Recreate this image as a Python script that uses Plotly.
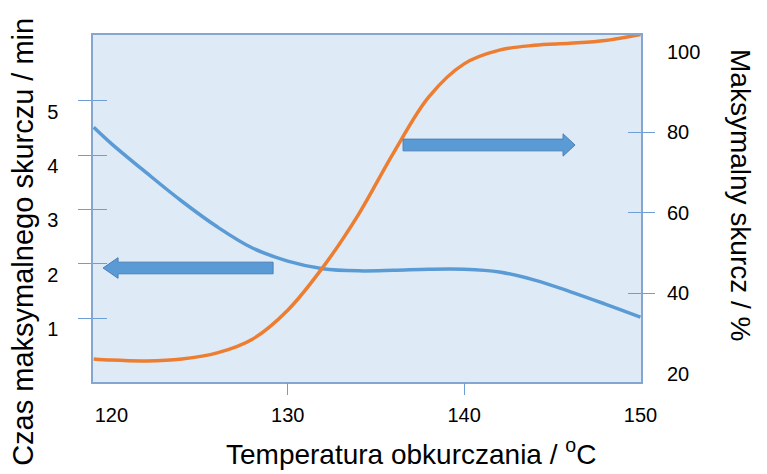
import plotly.graph_objects as go

# ---- data ----
temperature = [119, 120, 122, 124, 126, 128, 130, 132, 134, 136, 138, 140, 142, 144, 146, 148, 150]
time_min = [4.51, 4.21, 3.67, 3.15, 2.68, 2.29, 2.05, 1.91, 1.87, 1.88, 1.90, 1.90, 1.85, 1.70, 1.49, 1.26, 1.02]
shrink_pct = [23.7, 23.4, 23.2, 23.7, 25.2, 28.6, 35.8, 46.5, 59.5, 74.9, 88.8, 97.0, 100.4, 101.6, 102.1, 102.8, 104.3]

x_ticks = [120, 130, 140, 150]
x_marks = [130, 140]
left_ticks = [1, 2, 3, 4, 5]
right_ticks = [20, 40, 60, 80, 100]
right_marks = [40, 60, 80]

X_RANGE = [118.96, 150.03]
Y_RANGE = [-0.173, 6.206]
Y2_RANGE = [17.96, 104.17]

BLUE = "#5B9BD5"
ORANGE = "#ED7D31"
FRAME = "#86A6D2"
TICKC = "#6E9ED6"
FONT = "Liberation Sans, Arial, sans-serif"

fig = go.Figure()
fig.add_trace(go.Scatter(x=temperature, y=time_min, mode="lines",
                         line=dict(color=BLUE, width=3.5, shape="spline", smoothing=1.0),
                         xaxis="x", yaxis="y", showlegend=False, hoverinfo="skip"))
fig.add_trace(go.Scatter(x=temperature, y=shrink_pct, mode="lines",
                         line=dict(color=ORANGE, width=3.5, shape="spline", smoothing=1.0),
                         xaxis="x", yaxis="y2", showlegend=False, hoverinfo="skip"))
# empty traces that only register the tick-mark axes
for xa, ya in [("x2", "y"), ("x", "y3"), ("x", "y4"), ("x", "y5")]:
    fig.add_trace(go.Scatter(x=[None], y=[None], xaxis=xa, yaxis=ya,
                             showlegend=False, hoverinfo="skip"))

# arrows (in data coordinates of the left axis)
def arrow(tail_x, tip_x, head_x, yc, bh, hh):
    return ("M {tx},{b1} L {hx},{b1} L {hx},{h1} L {px},{yc} L {hx},{h2} L {hx},{b2} L {tx},{b2} Z"
            .format(tx=tail_x, hx=head_x, px=tip_x, yc=yc, b1=yc + bh, b2=yc - bh, h1=yc + hh, h2=yc - hh))

shapes = [
    dict(type="path", xref="x", yref="y", path=arrow(129.17, 119.53, 120.38, 1.923, 0.107, 0.19),
         fillcolor=BLUE, line=dict(color="#4A7FB8", width=1)),
    dict(type="path", xref="x", yref="y", path=arrow(136.54, 146.29, 145.61, 4.184, 0.108, 0.205),
         fillcolor=BLUE, line=dict(color="#4A7FB8", width=1)),
]

tickfont = dict(family=FONT, size=20, color="#000000")
titlefont_l = dict(family=FONT, size=29, color="#000000")

fig.update_layout(
    width=767, height=474,
    margin=dict(l=93, r=126, t=35, b=92),
    paper_bgcolor="white", plot_bgcolor="#DEEBF7",
    shapes=shapes,
    xaxis=dict(range=X_RANGE, tickvals=x_ticks, ticks="", showline=True, mirror=True,
               linecolor=FRAME, linewidth=1.5, showgrid=False, zeroline=False,
               tickfont=tickfont, ticklabelstandoff=14),
    xaxis2=dict(range=X_RANGE, overlaying="x", anchor="y", side="bottom", tickvals=x_marks,
                ticks="outside", ticklen=12, tickcolor=TICKC, tickwidth=1,
                showticklabels=False, showline=False, showgrid=False, zeroline=False),
    yaxis=dict(range=Y_RANGE, tickvals=left_ticks, ticks="outside", ticklen=13, tickcolor=TICKC,
               tickwidth=1, showline=True, mirror=True, linecolor=FRAME, linewidth=1.5,
               showgrid=False, zeroline=False, tickfont=tickfont,
               ticklabelshift=11, ticklabelstandoff=16),
    yaxis3=dict(range=Y_RANGE, overlaying="y", anchor="x", side="left", tickvals=left_ticks,
                ticks="inside", ticklen=14, tickcolor=TICKC, tickwidth=1,
                showticklabels=False, showline=False, showgrid=False, zeroline=False),
    yaxis2=dict(range=Y2_RANGE, overlaying="y", anchor="x", side="right", tickvals=right_ticks,
                ticks="", showline=False, showgrid=False, zeroline=False,
                tickfont=tickfont, ticklabelstandoff=25),
    yaxis4=dict(range=Y2_RANGE, overlaying="y", anchor="x", side="right", tickvals=right_marks,
                ticks="outside", ticklen=13, tickcolor=TICKC, tickwidth=1,
                showticklabels=False, showline=False, showgrid=False, zeroline=False),
    yaxis5=dict(range=Y2_RANGE, overlaying="y", anchor="x", side="right", tickvals=right_marks,
                ticks="inside", ticklen=13, tickcolor=TICKC, tickwidth=1,
                showticklabels=False, showline=False, showgrid=False, zeroline=False),
    annotations=[
        dict(text="Temperatura obkurczania / <sup>o</sup>C", xref="paper", yref="paper",
             x=0.5803, y=-0.2017, xanchor="center", yanchor="middle", showarrow=False,
             font=dict(family=FONT, size=28, color="#000000")),
        dict(text="Czas maksymalnego skurczu / min", xref="paper", yref="paper",
             x=-0.1277, y=0.404, xanchor="center", yanchor="middle", showarrow=False,
             textangle=-90, font=titlefont_l),
        dict(text="Maksymalny skurcz / %", xref="paper", yref="paper",
             x=1.1825, y=0.5389, xanchor="center", yanchor="middle", showarrow=False,
             textangle=90, font=dict(family=FONT, size=28, color="#000000")),
    ],
)

fig.write_html("out.html")
